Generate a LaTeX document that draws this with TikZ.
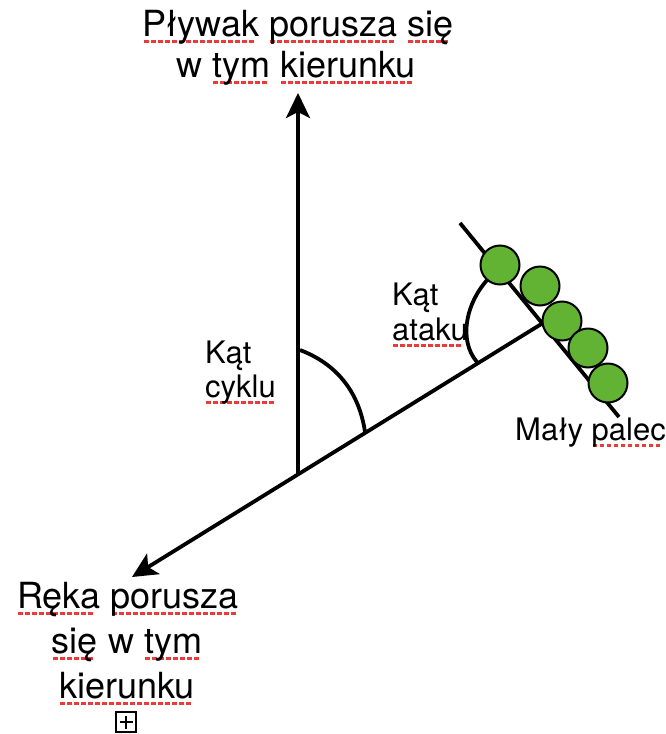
\documentclass[tikz,border=0pt]{standalone}
\usepackage{fontspec}
\setmainfont{TeX Gyre Heros}
\usetikzlibrary{arrows.meta}
\definecolor{fingergreen}{RGB}{98,178,52}
\definecolor{spellred}{RGB}{236,58,58}
% red dashed spell-check mark under a word
\newcommand\spellmark[1]{\setbox0=\hbox{#1}\leavevmode\rlap{\hbox to \wd0{\color{spellred}\leaders\hbox to 7pt{\hss\vrule width 4.5pt height -3.5pt depth 6.5pt\hss}\hfill}}\box0\relax}
\begin{document}
\begin{tikzpicture}[x=1pt,y=-1pt,
  heavy/.style={line width=3.8pt},
  tip/.style={-{Stealth[length=25pt,width=24pt,inset=6pt]}},
  bigtext/.style={font=\fontsize{36}{40}\selectfont, inner sep=0pt, anchor=base},
  smalltext/.style={font=\fontsize{31}{34}\selectfont, inner sep=0pt, anchor=base west},
  fingertip/.style={circle, draw=black, line width=2pt, fill=fingergreen,
                    minimum size=39pt, inner sep=0pt}]
\useasboundingbox (0,0) rectangle (665,734);

% main geometry
\coordinate (O) at (298,474);
\coordinate (Up) at (298,93);
\coordinate (Hand) at (132,577);
\coordinate (ArmDir) at (538,326);
\coordinate (F1) at (460,223);
\coordinate (F2) at (619,417);
\coordinate (Tip) at (intersection of O--ArmDir and F1--F2);

% swimmer direction and hand direction
\draw[heavy, tip] (O) -- (Up);
\draw[heavy, tip] (Tip) -- (Hand);
% hand plane
\draw[heavy] (F1) -- (F2);

% angle marks
\draw[heavy] (300,350) .. controls (342,366) and (360,398) .. (365,432);
\draw[heavy] (489,278) .. controls (466,302) and (458,340) .. (477,362);

% fingers
\node[fingertip] (f1) at (500,265) {};
\node[fingertip] (f2) at (540,286) {};
\node[fingertip] (f3) at (562,321) {};
\node[fingertip] (f4) at (588,348) {};
\node[fingertip] (f5) at (608,383) {};

% labels
\node[bigtext] (top1) at (298,36) {\spellmark{Pływak} \spellmark{porusza} \spellmark{się}};
\node[bigtext] (top2) at (296,77) {w \spellmark{tym} \spellmark{kierunku}};
\node[bigtext] (bot1) at (128,608) {\spellmark{Ręka} \spellmark{porusza}};
\node[bigtext] (bot2) at (127,653) {\spellmark{się} w \spellmark{tym}};
\node[bigtext] (bot3) at (127,698) {\spellmark{kierunku}};

\node[smalltext] (cyc1) at (205,363) {Kąt};
\node[smalltext] (cyc2) at (205,397) {\spellmark{cyklu}};
\node[smalltext] (att1) at (392,305) {Kąt};
\node[smalltext] (att2) at (392,340) {\spellmark{ataku}};
\node[smalltext] (pinky) at (515,440) {Mały \spellmark{palec}};

% small expander box
\node[draw=black, line width=1.2pt, minimum size=20pt, inner sep=0pt] (expander) at (126,722) {};
\draw[line width=1.3pt] ([xshift=-6.5pt]expander.center) -- ([xshift=6.5pt]expander.center);
\draw[line width=1.3pt] ([yshift=-6.5pt]expander.center) -- ([yshift=6.5pt]expander.center);
\end{tikzpicture}
\end{document}
